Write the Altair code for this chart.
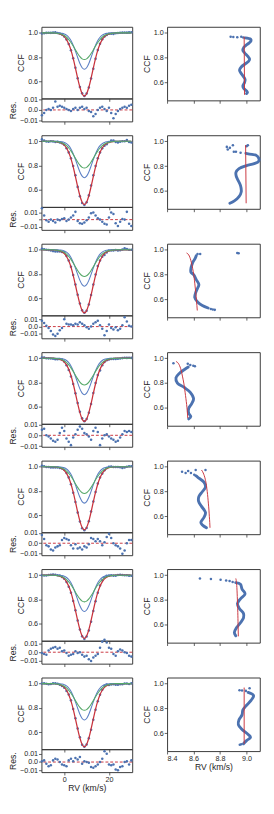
import altair as alt
import pandas as pd

# ---------------- data ----------------
RV = list(range(-10, 31))  # km/s sample points of the CCF

# model components (same shape in every epoch)
GREEN = [1, 1, 1, 1, 1, 1, 0.998, 0.996, 0.993, 0.987,
         0.978, 0.964, 0.945, 0.921, 0.892, 0.860, 0.830, 0.804, 0.786, 0.780,
         0.786, 0.804, 0.830, 0.860, 0.892, 0.921, 0.945, 0.964, 0.978, 0.987,
         0.993, 0.996, 0.998, 1, 1, 1, 1, 1, 1, 1, 1]
BLUE = [1, 1, 1, 1, 1, 1, 1, 1, 0.998, 0.996,
        0.991, 0.981, 0.964, 0.937, 0.898, 0.850, 0.797, 0.748, 0.713, 0.700,
        0.713, 0.748, 0.797, 0.850, 0.898, 0.937, 0.964, 0.981, 0.991, 0.996,
        0.998, 1, 1, 1, 1, 1, 1, 1, 1, 1, 1]
FIT = [1, 1, 1, 1, 1, 1, 0.998, 0.996, 0.991, 0.983,
       0.969, 0.945, 0.909, 0.858, 0.790, 0.710, 0.627, 0.552, 0.499, 0.480,
       0.499, 0.552, 0.627, 0.710, 0.790, 0.858, 0.909, 0.945, 0.969, 0.983,
       0.991, 0.996, 0.998, 1, 1, 1, 1, 1, 1, 1, 1]

# residuals (units of 1e-3), one list per epoch, at RV = -10 .. 30
RES = [
    [-5, -3, 0, 1, 0, 2, 8, 3, 4, 3, 2, 1, 0, -1, 1, 2, 0, 2, 3, 1, 2, -1, -2, -6, -4, 0, 2, 3, 1, -1, 2, -3, -8, -4, -1, 1, 2, 3, 2, 4, 5],
    [16, 6, -1, -3, 0, -2, -4, 0, -1, 1, 2, -2, 0, 3, 6, 11, -2, -5, -6, -4, -1, 3, 9, 10, 6, 2, 0, -3, -6, -7, 3, 10, 8, -5, -9, -3, 1, 0, 11, -6, -9],
    [8, 5, 1, -2, -6, -11, -13, -10, -5, -2, 10, 4, 3, 3, 2, 4, 3, 6, 4, 2, -1, -3, 0, 4, 6, 8, 2, -3, -12, -6, 3, -2, -4, -1, -5, -3, 2, 13, 7, 1, 0],
    [5, 6, 0, -1, -3, -5, -6, -4, 2, 7, 4, -3, -6, -9, -2, 1, 5, 8, 6, 2, 1, -1, -4, 4, 7, 3, -9, -3, 0, 1, -1, -3, -4, -6, -5, -2, 1, 4, 3, 4, 3],
    [8, 4, -2, -3, -6, -7, -4, -3, -2, 3, 5, 4, 3, -2, -5, -1, -5, -4, -6, -3, -4, -1, 5, 4, 2, 4, 2, -2, 1, 6, 9, 5, 0, -2, -3, -5, -10, -7, 0, 3, 3],
    [-1, -2, -3, 2, 4, 5, 6, 4, 5, 1, 2, -1, -4, -3, -2, 1, -1, 0, -3, -5, -4, -8, -10, -6, -4, -2, 5, 12, 14, 11, 5, 4, -2, -4, 1, 3, 2, 0, -1, -4, -5],
    [1, 2, -2, -5, -4, 2, 4, 3, 0, -3, -4, -5, 2, 4, 1, 5, 3, 6, -2, 1, 0, -1, -6, -7, -5, -3, 0, 4, 13, 10, -3, -4, -3, -9, -10, -6, -5, 0, 1, -3, 2],
]
RES_LO = [-0.011, -0.0145, -0.0162, -0.0105, -0.0115, -0.013, -0.0122]
RES_HI = [0.011, 0.018, 0.0155, 0.0105, 0.0105, 0.013, 0.0155]

# bisectors: (CCF level, RV) dense part, scattered points, and fitted red line
BIS_CURVE = [
    [(0.96, 8.99), (0.95, 9.03), (0.937, 9.034), (0.92, 9.02), (0.90, 8.995), (0.885, 8.98), (0.86, 8.972),
     (0.84, 8.985), (0.81, 9.01), (0.788, 9.023), (0.77, 9.015), (0.75, 8.99), (0.725, 8.96), (0.70, 8.947),
     (0.68, 8.955), (0.65, 8.975), (0.624, 8.989), (0.60, 8.985), (0.571, 8.972), (0.55, 8.98), (0.532, 9.0),
     (0.519, 9.007), (0.51, 9.0)],
    [(0.904, 8.995), (0.895, 9.04), (0.89, 9.069), (0.865, 9.092), (0.84, 9.092), (0.82, 9.057), (0.805, 9.0),
     (0.78, 8.943), (0.75, 8.92), (0.72, 8.922), (0.696, 8.931), (0.644, 8.954), (0.592, 8.96), (0.553, 8.943),
     (0.519, 8.908), (0.50, 8.874)],
    [(0.953, 8.62), (0.927, 8.61), (0.90, 8.594), (0.875, 8.586), (0.85, 8.58), (0.82, 8.58), (0.80, 8.60),
     (0.76, 8.62), (0.72, 8.64), (0.69, 8.63), (0.655, 8.616), (0.615, 8.609), (0.577, 8.632), (0.55, 8.666),
     (0.53, 8.71)],
    [(0.93, 8.56), (0.908, 8.529), (0.88, 8.494), (0.843, 8.467), (0.80, 8.478), (0.765, 8.529), (0.725, 8.575),
     (0.673, 8.60), (0.634, 8.586), (0.595, 8.563), (0.556, 8.563), (0.53, 8.579), (0.51, 8.563)],
    [(0.928, 8.616), (0.915, 8.632), (0.876, 8.678), (0.837, 8.69), (0.80, 8.667), (0.76, 8.64), (0.72, 8.638),
     (0.68, 8.66), (0.63, 8.69), (0.59, 8.678), (0.55, 8.655), (0.53, 8.667), (0.507, 8.697)],
    [(0.94, 8.918), (0.927, 8.954), (0.888, 8.966), (0.85, 8.989), (0.81, 8.954), (0.77, 8.931), (0.73, 8.947),
     (0.69, 8.977), (0.655, 8.977), (0.616, 8.954), (0.577, 8.925), (0.537, 8.908), (0.51, 8.919)],
    [(0.93, 9.012), (0.904, 9.053), (0.865, 9.034), (0.826, 9.0), (0.787, 8.972), (0.748, 8.966), (0.709, 8.943),
     (0.67, 8.938), (0.63, 8.966), (0.59, 9.012), (0.566, 9.03), (0.54, 9.0), (0.514, 8.977)],
]
BIS_SCATTER = [
    [(0.97, 8.88), (0.968, 8.90), (0.965, 8.93), (0.97, 8.96), (0.963, 8.975)],
    [(0.956, 8.851), (0.935, 8.858), (0.948, 8.874), (0.969, 8.897), (0.917, 8.904), (0.917, 8.92),
     (0.909, 8.955), (0.969, 9.01), (0.962, 9.0)],
    [(0.966, 8.63), (0.966, 8.65), (0.974, 8.93), (0.972, 8.94), (0.522, 8.73), (0.518, 8.745), (0.515, 8.76)],
    [(0.96, 8.448), (0.956, 8.556), (0.947, 8.575), (0.94, 8.598), (0.937, 8.61)],
    [(0.96, 8.513), (0.95, 8.54), (0.966, 8.559), (0.95, 8.58), (0.974, 8.616), (0.974, 8.69), (0.935, 8.605)],
    [(0.974, 8.648), (0.969, 8.731), (0.964, 8.804), (0.958, 8.846), (0.953, 8.872), (0.945, 8.895)],
    [(0.948, 8.947), (0.945, 8.966), (0.964, 9.023), (0.942, 8.995), (0.506, 8.949), (0.51, 8.96)],
]
BIS_FIT = [
    [(0.97, 8.982), (0.50, 8.985)],
    [(0.97, 8.993), (0.50, 8.997)],
    [(0.975, 8.547), (0.95, 8.568), (0.90, 8.583), (0.85, 8.593), (0.80, 8.601), (0.75, 8.607), (0.70, 8.612),
     (0.65, 8.617), (0.60, 8.621), (0.55, 8.625), (0.51, 8.628)],
    [(0.975, 8.467), (0.95, 8.49), (0.90, 8.507), (0.85, 8.517), (0.80, 8.526), (0.75, 8.533), (0.70, 8.539),
     (0.65, 8.545), (0.60, 8.55), (0.55, 8.554), (0.516, 8.556)],
    [(0.974, 8.66), (0.95, 8.673), (0.90, 8.688), (0.85, 8.697), (0.80, 8.703), (0.75, 8.708), (0.70, 8.712),
     (0.65, 8.716), (0.60, 8.719), (0.55, 8.722), (0.507, 8.724)],
    [(0.974, 8.919), (0.90, 8.927), (0.80, 8.931), (0.70, 8.934), (0.60, 8.936), (0.506, 8.938)],
    [(0.969, 8.982), (0.514, 8.982)],
]

# ---------------- styling ----------------
C_OBS = "#4c72b0"
C_FIT = "#c8323c"
C_GRN = "#55a868"
C_BLU = "#5b7fc4"
FONT = "Liberation Sans"

W_L, H_CCF, H_RES = 95, 75, 24
W_R, H_R = 97, 77

x_ccf_scale = alt.Scale(domain=[-10.2, 30.4], nice=False, zero=False)
y_ccf_scale = alt.Scale(domain=[0.46, 1.05], nice=False, zero=False)
x_bis_scale = alt.Scale(domain=[8.4, 9.1], nice=False, zero=False)
y_bis_scale = alt.Scale(domain=[0.455, 1.05], nice=False, zero=False)

N = len(RES)


def make_row(i):
    last = i == N - 1
    ccf_df = pd.DataFrame({
        "rv": RV,
        "obs": [f + r * 1e-3 for f, r in zip(FIT, RES[i])],
        "fit": FIT,
        "g": GREEN,
        "b": BLUE,
    })
    ax_x_top = alt.Axis(values=[0, 20], labels=False, title=None, tickSize=3)
    ax_y_ccf = alt.Axis(values=[0.6, 0.8, 1.0], format=".1f", title="CCF")

    def xe():
        return alt.X("rv:Q", scale=x_ccf_scale, axis=ax_x_top)

    def ye(f):
        return alt.Y(f + ":Q", scale=y_ccf_scale, axis=ax_y_ccf)

    base = alt.Chart(ccf_df)
    ccf = alt.layer(
        base.mark_circle(size=7, color=C_OBS, opacity=1).encode(x=xe(), y=ye("obs")),
        base.mark_line(color=C_FIT, strokeWidth=1.3, interpolate="monotone").encode(x=xe(), y=ye("fit")),
        base.mark_line(color=C_BLU, strokeWidth=1.1, interpolate="monotone").encode(x=xe(), y=ye("b")),
        base.mark_line(color=C_GRN, strokeWidth=1.1, interpolate="monotone").encode(x=xe(), y=ye("g")),
    ).properties(width=W_L, height=H_CCF)

    res_df = pd.DataFrame({"rv": RV, "res": [r * 1e-3 for r in RES[i]]})
    y_res_scale = alt.Scale(domain=[RES_LO[i], RES_HI[i]], nice=False, zero=False)
    ax_y_res = alt.Axis(values=[-0.01, 0.0, 0.01], title="Res.",
                        labelExpr="datum.value == 0 ? '0.0' : format(datum.value, '.2f')")
    if last:
        ax_x_res = alt.Axis(values=[0, 20], format="d", title="RV (km/s)", tickSize=3, titlePadding=1)
    else:
        ax_x_res = alt.Axis(values=[0, 20], labels=False, title=None, tickSize=3)
    res = alt.layer(
        alt.Chart(pd.DataFrame({"z": [0.0]})).mark_rule(color=C_FIT, strokeDash=[3, 2], strokeWidth=1).encode(
            y=alt.Y("z:Q", scale=y_res_scale, axis=ax_y_res)),
        alt.Chart(res_df).mark_circle(size=7, color=C_OBS, opacity=1).encode(
            x=alt.X("rv:Q", scale=x_ccf_scale, axis=ax_x_res),
            y=alt.Y("res:Q", scale=y_res_scale, axis=ax_y_res)),
    ).properties(width=W_L, height=H_RES)

    left = alt.vconcat(ccf, res, spacing=0, bounds="flush")

    curve_df = pd.DataFrame(BIS_CURVE[i], columns=["ccf", "rv"])
    curve_df["k"] = range(len(curve_df))
    scat_df = pd.DataFrame(BIS_SCATTER[i], columns=["ccf", "rv"])
    fit_df = pd.DataFrame(BIS_FIT[i], columns=["ccf", "rv"])
    fit_df["k"] = range(len(fit_df))
    if last:
        ax_x_bis = alt.Axis(values=[8.4, 8.6, 8.8, 9.0], format=".1f", title="RV (km/s)", tickSize=3,
                            titlePadding=1)
    else:
        ax_x_bis = alt.Axis(values=[8.4, 8.6, 8.8, 9.0], labels=False, title=None, tickSize=3)
    ax_y_bis = alt.Axis(values=[0.6, 0.8, 1.0], format=".1f", title="CCF")

    def bx():
        return alt.X("rv:Q", scale=x_bis_scale, axis=ax_x_bis)

    def by():
        return alt.Y("ccf:Q", scale=y_bis_scale, axis=ax_y_bis)

    bis = alt.layer(
        alt.Chart(curve_df).mark_line(color=C_OBS, strokeWidth=3, interpolate="catmull-rom",
                                      strokeCap="round").encode(x=bx(), y=by(), order="k:Q"),
        alt.Chart(scat_df).mark_circle(size=7, color=C_OBS, opacity=1).encode(x=bx(), y=by()),
        alt.Chart(fit_df).mark_line(color=C_FIT, strokeWidth=1, interpolate="monotone").encode(
            x=bx(), y=by(), order="k:Q"),
    ).properties(width=W_R, height=H_R)

    return alt.hconcat(left, bis, spacing=7.5)


rows = [make_row(i) for i in range(N)]

chart = alt.vconcat(*rows, spacing=9.5).properties(padding=0).configure_view(
    stroke="#333333", strokeWidth=1
).configure_axis(
    domain=False, grid=False, tickColor="#333333", tickSize=3, tickWidth=0.8,
    labelFont=FONT, titleFont=FONT, labelFontSize=7.5, titleFontSize=9,
    labelColor="#262626", titleColor="#262626", titleFontWeight="normal",
    labelPadding=1, titlePadding=2,
)

chart.save("out.html", embed_options={"renderer": "svg", "actions": False})
